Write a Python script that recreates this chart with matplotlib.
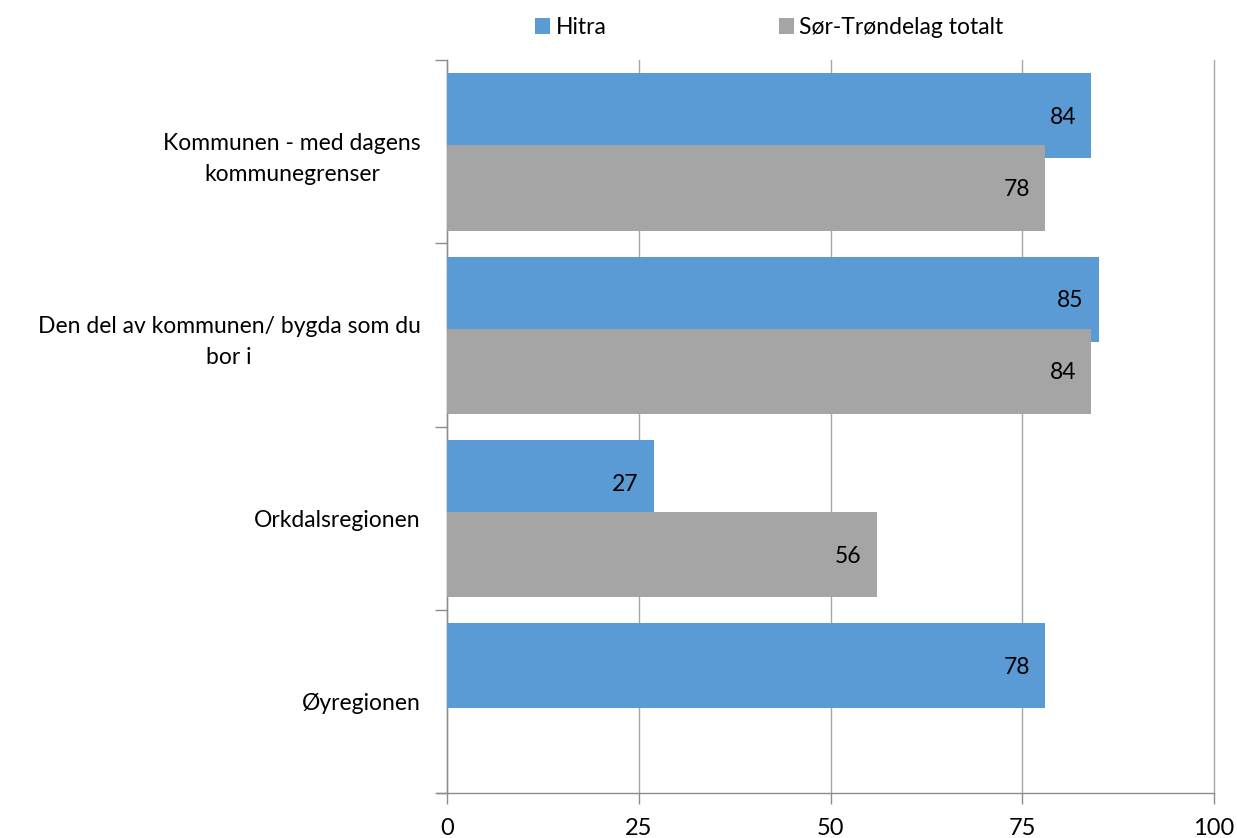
import numpy as np
import matplotlib.pyplot as plt

plt.rcParams["font.family"] = ["Lato", "DejaVu Sans"]

categories = [
    "Kommunen - med dagens\nkommunegrenser",
    "Den del av kommunen/ bygda som du\nbor i",
    "Orkdalsregionen",
    "Øyregionen",
]
series_names = ["Hitra", "Sør-Trøndelag totalt"]
hitra = [84, 85, 27, 78]
sor_trondelag = [78, 84, 56, np.nan]
colors = ["#5B9BD5", "#A5A5A5"]

fig = plt.figure(figsize=(12.37, 8.38), dpi=100)
ax = fig.add_axes([0.3614, 0.0537, 0.6200, 0.8747])

n = len(categories)
centers = np.arange(n) + 0.5
offsets = [-0.195, 0.198]
height = 0.465
bars = []
for vals, off, col, name in zip([hitra, sor_trondelag], offsets, colors, series_names):
    b = ax.barh(centers + off, vals, height=height, color=col, label=name, zorder=3)
    bars.append(b)
    for y, v in zip(centers + off, vals):
        if np.isnan(v):
            continue
        ax.text(v - 2.0, y + 0.01, f"{v:.0f}", ha="right", va="center",
                fontsize=16.5, color="black", zorder=4)

ax.set_xlim(0, 100)
ax.set_ylim(n, 0)
ax.set_xticks([0, 25, 50, 75, 100])
ax.set_xticklabels(["0", "25", "50", "75", "100"], fontsize=17)
ax.set_yticks(np.arange(n + 1))
ax.set_yticklabels([])
ax.set_yticks(centers, minor=True)
ax.set_yticklabels(categories, minor=True, fontsize=16.5)
for lab in ax.get_yticklabels(minor=True):
    lab.set_multialignment("center")
    lab.set_linespacing(1.6)
ax.tick_params(axis="y", which="minor", length=0, pad=19)
ax.tick_params(axis="y", which="major", length=9, color="#8C8C8C", width=1)
ax.tick_params(axis="x", length=8, color="#8C8C8C", width=1, pad=10)

ax.grid(axis="x", color="#A6A6A6", linewidth=1, zorder=0)
for gl in ax.get_xgridlines():
    gl.set_clip_on(False)
for s in ["top", "right"]:
    ax.spines[s].set_visible(False)
for s in ["left", "bottom"]:
    ax.spines[s].set_color("#8C8C8C")
    ax.spines[s].set_linewidth(1)
ax.spines["bottom"].set_bounds(-1.3, 100)
ax.spines["bottom"].set_zorder(5)

fig.legend(handles=bars, labels=series_names, loc="center", bbox_to_anchor=(0.622, 0.967),
           ncol=2, frameon=False, fontsize=16.5, handlelength=0.65, handleheight=0.65,
           handletextpad=0.25, columnspacing=7.5)

fig.savefig("out.png", dpi=100)
